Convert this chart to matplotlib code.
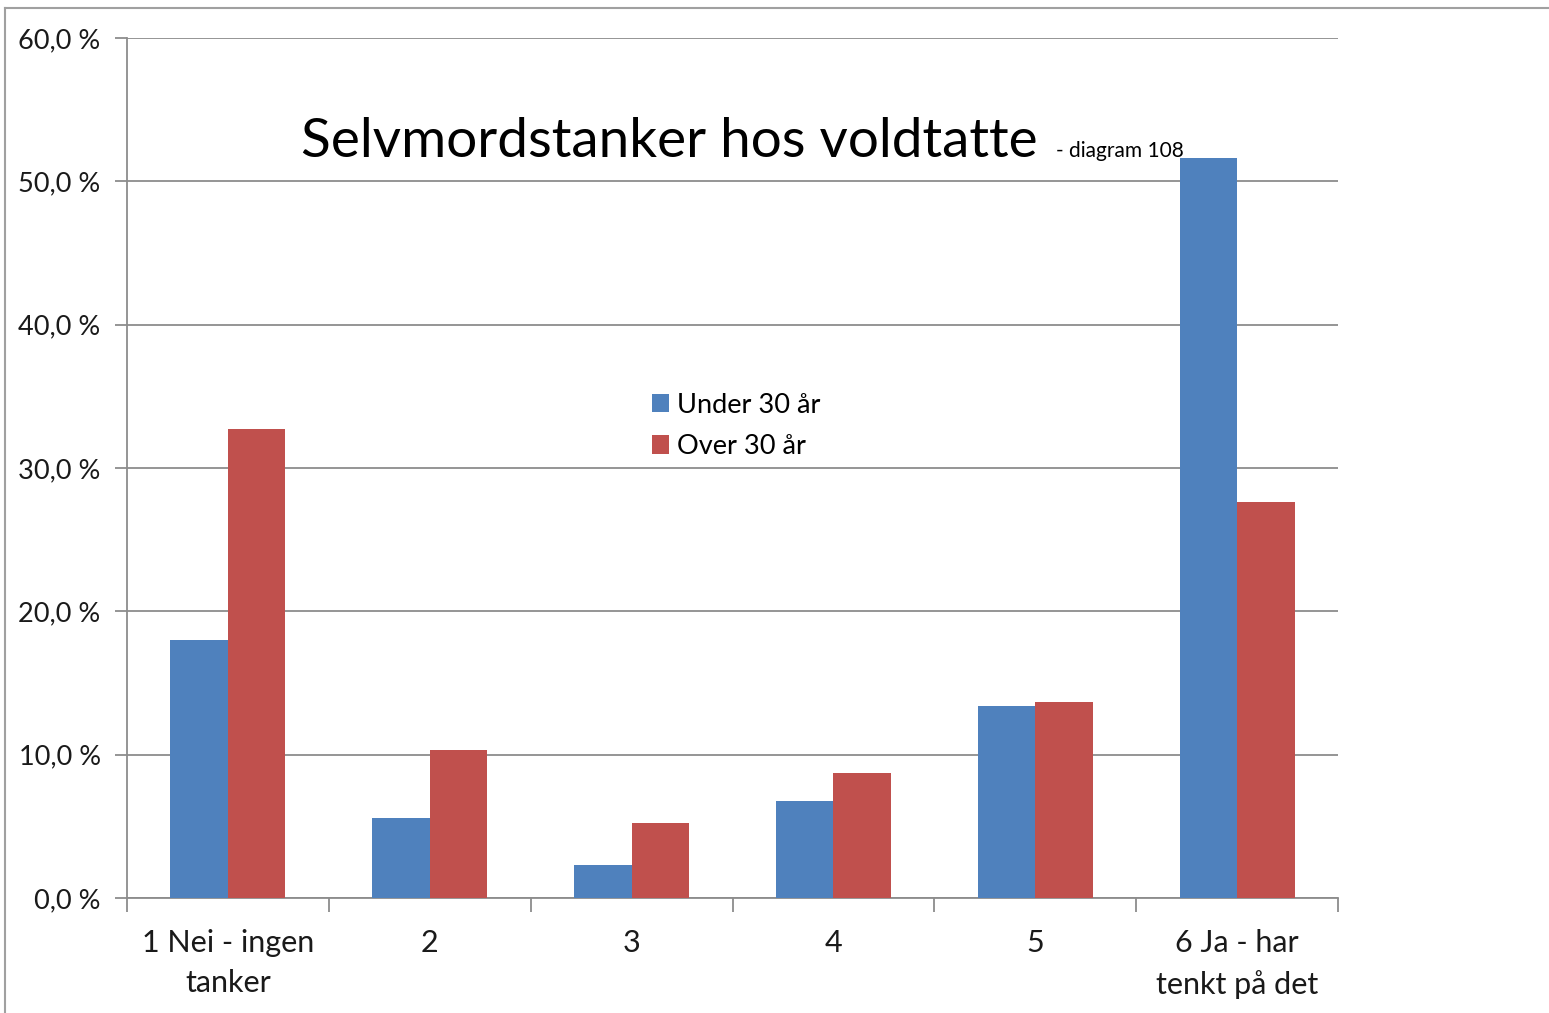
import matplotlib
matplotlib.use('Agg')
import matplotlib.pyplot as plt
import numpy as np
from matplotlib.lines import Line2D

plt.rcParams['font.family'] = ['Lato', 'DejaVu Sans']

categories = ['1 Nei - ingen\ntanker', '2', '3', '4', '5', '6 Ja - har\ntenkt på det']
under_30 = [18.0, 5.6, 2.3, 6.8, 13.4, 51.6]
over_30 = [32.7, 10.3, 5.2, 8.7, 13.7, 27.6]
y_ticks = [0, 10, 20, 30, 40, 50, 60]
y_labels = ['0,0 %', '10,0 %', '20,0 %', '30,0 %', '40,0 %', '50,0 %', '60,0 %']

BLUE = '#4F81BD'
RED = '#C0504D'
GREY = '#8c8c8c'

fig = plt.figure(figsize=(15.49, 10.13), dpi=100)
ax = fig.add_axes([0.0820, 0.1135, 0.7818, 0.8490])

x = np.arange(len(categories))
w = 0.285
ax.bar(x - w / 2, under_30, w, color=BLUE, label='Under 30 år', zorder=3)
ax.bar(x + w / 2, over_30, w, color=RED, label='Over 30 år', zorder=3)

ax.set_xlim(-0.5, len(categories) - 0.5)
ax.set_ylim(0, 60)
ax.set_yticks(y_ticks)
ax.set_yticklabels(y_labels, fontsize=19.5, color='#1a1a1a')
ax.yaxis.grid(True, color=GREY, linewidth=1.3, zorder=0)

# category ticks sit on group boundaries, labels centred
ax.set_xticks(np.arange(-0.5, len(categories)), minor=False)
ax.set_xticklabels([])
ax.set_xticks(x, minor=True)
ax.set_xticklabels(categories, minor=True, fontsize=22, color='#1a1a1a', linespacing=1.55)
ax.tick_params(axis='x', which='major', length=10, width=1.3, color=GREY)
ax.tick_params(axis='x', which='minor', length=0, pad=22)
ax.tick_params(axis='y', length=9, width=1.3, color=GREY, pad=10)

for s in ['top', 'right']:
    ax.spines[s].set_visible(False)
for s in ['left', 'bottom']:
    ax.spines[s].set_color(GREY)
    ax.spines[s].set_linewidth(1.3)

ax.legend(loc='center left', bbox_to_anchor=(0.422, 0.549), frameon=False,
          fontsize=19.5, handlelength=0.65, handleheight=0.65, handletextpad=0.3,
          labelspacing=0.6, borderpad=0)

fig.text(0.194, 0.845, 'Selvmordstanker hos voldtatte', fontsize=39.5, va='baseline')
fig.text(0.682, 0.845, '- diagram 108', fontsize=15, va='baseline')

# outer frame (only top and left visible)
fig.add_artist(Line2D([0.003, 1.0], [0.992, 0.992], color='#a0a0a0', lw=1.5))
fig.add_artist(Line2D([0.0035, 0.0035], [0.0, 0.992], color='#a0a0a0', lw=1.5))

fig.savefig('out.png', dpi=100)
